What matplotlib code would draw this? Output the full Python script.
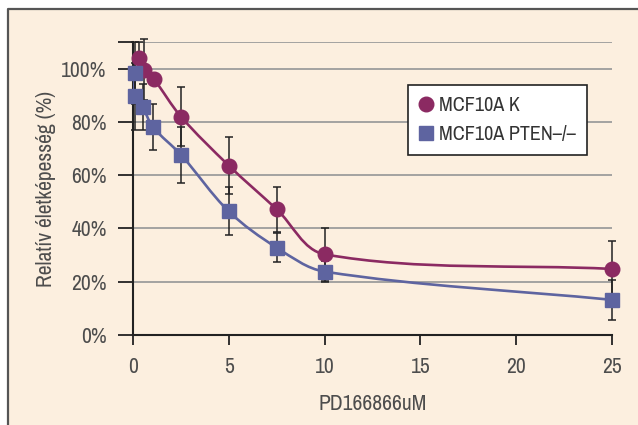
import matplotlib
matplotlib.use('Agg')
import matplotlib.pyplot as plt
from matplotlib import font_manager
from matplotlib.path import Path
from matplotlib.patches import PathPatch, Rectangle
from matplotlib.lines import Line2D
import numpy as np

# MCF10A K (circles)
k_x = [0.3, 0.6, 1.1, 2.5, 5, 7.5, 10, 25]
k_y = [104, 99.6, 96, 82, 63.6, 47.2, 30.3, 24.8]
k_err = [6, 11.5, 0, 11, 10.7, 8.4, 10, 10.5]

# MCF10A PTEN-/- (squares)
p_x = [0.1, 0.1, 0.5, 1.05, 2.5, 5, 7.5, 10, 25]
p_y = [98.3, 89.6, 85.6, 78, 67.7, 46.4, 32.8, 23.8, 13.2]
p_err = [11.7, 12.6, 8.5, 8.7, 10.5, 9, 5.5, 4, 7.6]

x_ticks = [0, 5, 10, 15, 20, 25]
y_ticks = [0, 20, 40, 60, 80, 100, 110]
y_labels = ['0%', '20%', '40%', '60%', '80%', '100%', '']

x_title = 'PD166866uM'
y_title = 'Relatív életképesség (%)'
names = ['MCF10A K', 'MCF10A PTEN\u2013/\u2013']

c_k = '#8b2a62'
c_p = '#5e64a0'
bg = '#fcefdf'
txt = '#4d4d4d'

narrow = sorted({f.name for f in font_manager.fontManager.ttflist
                 if 'Narrow' in f.name or 'Condensed' in f.name})
plt.rcParams['font.family'] = narrow + ['DejaVu Sans']


def smooth_line(ax, xs, ys, color):
    # smoothed line like a spreadsheet chart, built in screen space
    pts = ax.transData.transform(np.column_stack([xs, ys]))
    n = len(pts)
    verts = [pts[0]]
    codes = [Path.MOVETO]

    def unit(v):
        d = np.hypot(v[0], v[1])
        return v / d if d > 0 else v

    for i in range(n - 1):
        p0 = pts[max(i - 1, 0)]
        p1 = pts[i]
        p2 = pts[i + 1]
        p3 = pts[min(i + 2, n - 1)]
        seg = np.hypot(*(p2 - p1))
        c1 = p1 + unit(p2 - p0) * seg / 3.0
        c2 = p2 - unit(p3 - p1) * seg / 3.0
        verts += [c1, c2, p2]
        codes += [Path.CURVE4] * 3
    patch = PathPatch(Path(verts, codes), facecolor='none', edgecolor=color,
                      lw=1.9, transform=None, zorder=3)
    ax.add_artist(patch)


fig = plt.figure(figsize=(6.38, 4.25), dpi=100)
fig.patch.set_facecolor('white')
fig.patches.append(Rectangle((8 / 638, 0), 1, 1 - 9 / 425, transform=fig.transFigure,
                             facecolor=bg, edgecolor='none', zorder=-10))
fig.lines.append(Line2D([8 / 638, 8 / 638, 1], [0, 1 - 9 / 425, 1 - 9 / 425],
                        transform=fig.transFigure, color='#555555', lw=1.6, zorder=-5))

ax = fig.add_axes([133 / 638, 1 - 335 / 425, (612 - 133) / 638, (335 - 42) / 425])
ax.set_facecolor('none')
ax.set_xlim(0, 25)
ax.set_ylim(0, 110)

for g in [20, 40, 60, 80, 100, 110]:
    ax.axhline(g, color='#9c9c9c', lw=1.3, zorder=1)

ax.set_xticks(x_ticks)
ax.set_yticks(y_ticks)
ax.set_yticklabels(y_labels)
ax.tick_params(axis='y', length=11, width=1.3, direction='out', pad=8, labelsize=15.5, labelcolor=txt, color='#222222')
ax.tick_params(axis='x', length=7, width=1.3, direction='out', pad=9, labelsize=15.5, labelcolor=txt, color='#222222')
for s in ['top', 'right']:
    ax.spines[s].set_visible(False)
for s in ['left', 'bottom']:
    ax.spines[s].set_linewidth(1.5)
    ax.spines[s].set_color('#222222')

fig.canvas.draw()
smooth_line(ax, k_x, k_y, c_k)
smooth_line(ax, p_x, p_y, c_p)

ax.errorbar(k_x, k_y, yerr=k_err, fmt='none', ecolor='#222222', elinewidth=1.1,
            capsize=3, capthick=1.1, zorder=4, clip_on=False)
ax.errorbar(p_x, p_y, yerr=p_err, fmt='none', ecolor='#222222', elinewidth=1.1,
            capsize=3, capthick=1.1, zorder=4, clip_on=False)
ax.plot(k_x, k_y, 'o', color=c_k, ms=10.5, mec=c_k, zorder=5, clip_on=False, label=names[0])
ax.plot(p_x, p_y, 's', color=c_p, ms=9.5, mec=c_p, zorder=5, clip_on=False, label=names[1])

ax.set_xlabel(x_title, fontsize=15.5, color=txt, labelpad=12)
ax.set_ylabel(y_title, fontsize=15.5, color=txt, labelpad=4)

leg = fig.legend(loc='upper left', bbox_to_anchor=(408 / 638, 1 - 85 / 425), borderaxespad=0,
                 fontsize=14.5, frameon=True, fancybox=False, framealpha=1,
                 edgecolor='#222222', handlelength=0.7, handletextpad=0.3,
                 borderpad=0.55, labelspacing=0.5)
leg.get_frame().set_linewidth(1.2)
for t in leg.get_texts():
    t.set_color('#333333')

fig.savefig('out.png', dpi=100)
